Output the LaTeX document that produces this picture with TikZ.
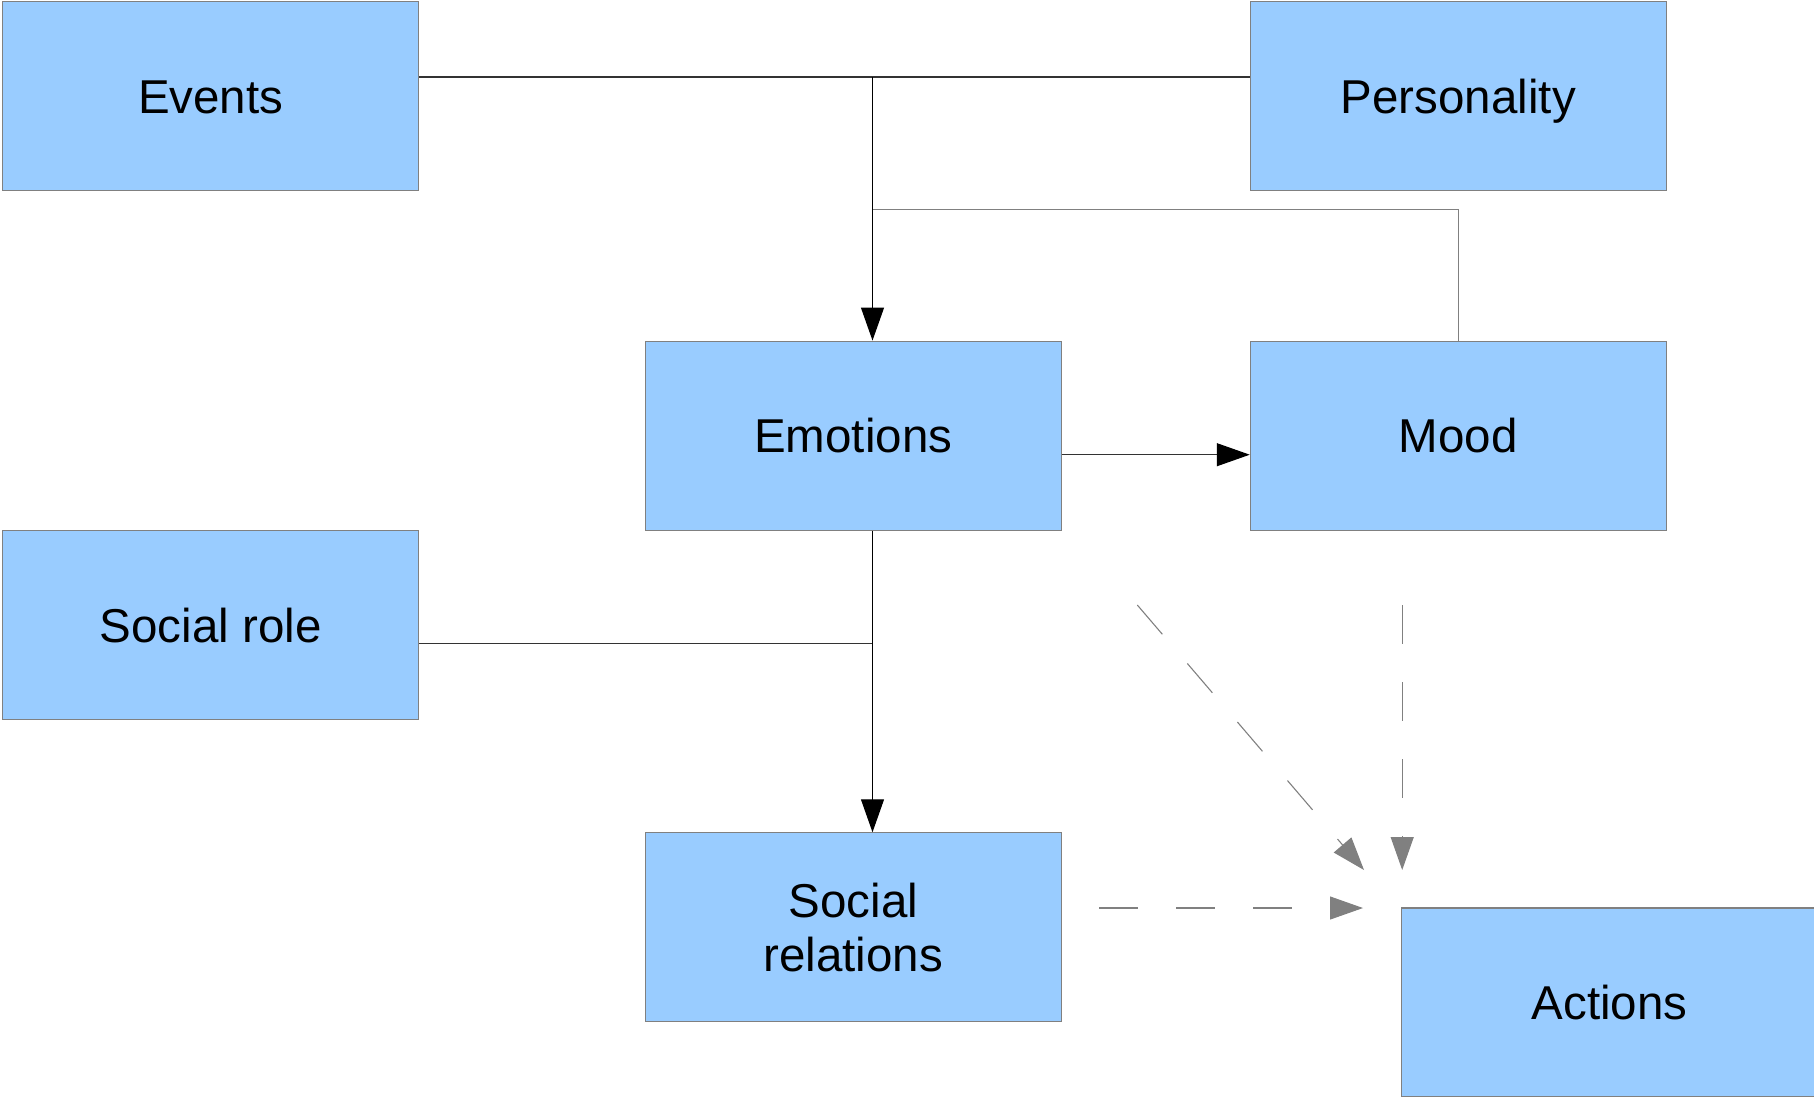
\documentclass[tikz,border=0pt]{standalone}
\usepackage{fontspec}
\setmainfont{Liberation Sans}
\usetikzlibrary{arrows.meta}
\definecolor{boxfill}{HTML}{99CCFF}
\definecolor{boxline}{HTML}{808080}
\definecolor{hint}{HTML}{808080}

\begin{document}
\begin{tikzpicture}[x=1pt,y=-1pt,
  box/.style={draw=boxline, line width=1.1pt, fill=boxfill,
    minimum width=416pt, minimum height=189pt, inner sep=0pt,
    font=\fontsize{47.5}{54}\selectfont},
  oneline/.style={box, text height=34pt, text depth=0pt},
  link/.style={line width=1.1pt, draw=black!80},
  flow/.style={link, -{Triangle[length=33pt,width=23pt,color=black,fill=black]}},
  hintflow/.style={draw=hint, line width=1.1pt, dash pattern=on 38.5pt off 38.5pt,
    -{Triangle[length=33pt,width=23pt,fill=hint]}}
]
\useasboundingbox (0,0) rectangle (1814,1096);

% boxes
\node[oneline] (events)      at (210.7,96)    {Events};
\node[oneline] (personality) at (1458.3,96)   {Personality};
\node[oneline] (emotions)    at (853.3,435.6) {Emotions};
\node[oneline] (mood)        at (1458.3,435.6){Mood};
\node[oneline] (socrole)     at (210.7,625.3) {Social role};
\node[box, align=center] (socrel) at (853.3,927.3) {Social\\relations};
\node[oneline] (actions)     at (1609.5,1002.5) {Actions};

% junction points of the solid connectors
\coordinate (top) at (872.5,77);
\coordinate (fb)  at (872.5,209.4);
\coordinate (em)  at (0,454.7);
\coordinate (sr)  at (872.5,643.3);

% solid connectors
\draw[link] (events.east |- top) -- (personality.west |- top);
\draw[flow, draw=black] (top) -- (emotions.north -| top);
\draw[link, draw=black!50] (mood.north) -- (mood.north |- fb) -- (fb);
\draw[flow] (emotions.east |- em) -- (mood.west |- em);
\draw[link] (socrole.east |- sr) -- (sr);
\draw[flow, draw=black] (emotions.south -| sr) -- (socrel.north -| sr);

% dashed influences on actions
\coordinate (dh0) at (1099,908);    \coordinate (dh1) at (1363,908);
\coordinate (dv0) at (1402.2,605);  \coordinate (dv1) at (1402.2,870);
\coordinate (dd0) at (1137.3,605);  \coordinate (dd1) at (1364,870);
\draw[hintflow] (dh0) -- (dh1);
\draw[hintflow] (dv0) -- (dv1);
\draw[hintflow] (dd0) -- (dd1);
\end{tikzpicture}
\end{document}
